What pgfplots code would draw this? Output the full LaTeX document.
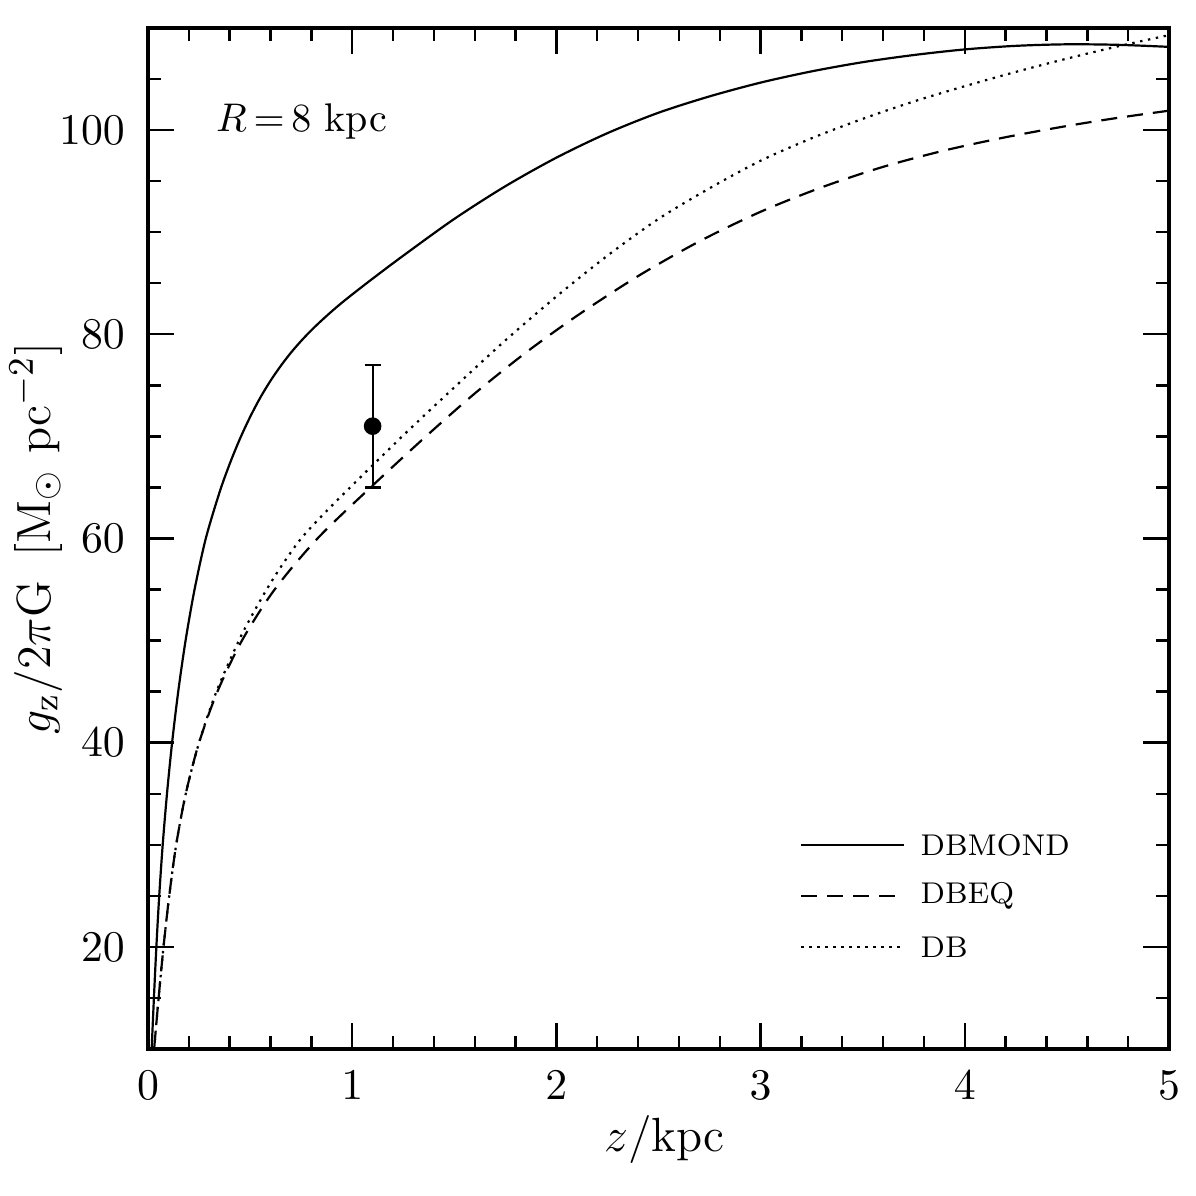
\documentclass[border=0pt]{standalone}
\usepackage{pgfplots}
\pgfplotsset{compat=1.18}

\begin{document}
\begin{tikzpicture}
% fixed page: 1 px of the reference = 0.25pt
\path[use as bounding box] (-37pt,-36.75pt) rectangle (262pt,262.25pt);
\begin{axis}[
    at={(0,0)}, anchor=south west,
    scale only axis,
    width=255.25pt, height=255.25pt,
    xmin=0, xmax=5, ymin=10, ymax=110,
    xtick={0,1,...,5},
    ytick={20,40,...,100},
    minor xtick={0,0.2,...,5},
    minor ytick={10,15,...,110},
    tick align=inside,
    major tick length=6.5pt,
    minor tick length=3.25pt,
    axis line style={line width=0.8pt},
    every tick/.style={line width=0.6pt, black},
    ticklabel style={font=\fontsize{11}{13}\selectfont},
    xticklabel style={yshift=-2pt},
    yticklabel style={xshift=-2.25pt},
    xlabel={$z/\mathrm{kpc}$},
    ylabel={$g_{\mathrm{z}}/2\pi\mathrm{G}\ \,[\mathrm{M}_\odot\ \mathrm{pc}^{-2}]$},
    label style={font=\fontsize{12.5}{15}\selectfont},
    xlabel style={at={(axis description cs:0.506,-0.0891)}, anchor=center},
    ylabel style={at={(axis description cs:-0.1098,0.5)}, anchor=center},
    clip=true,
]
% DBMOND
\addplot[black, line width=0.55pt, smooth] coordinates {
    (0.018,10) (0.029,15) (0.041,20) (0.055,25) (0.072,30) (0.093,35)
    (0.118,40) (0.148,45) (0.184,50) (0.228,55) (0.283,60) (0.35,64.5)
    (0.4,67.3) (0.45,69.75) (0.5,71.9) (0.55,73.8) (0.6,75.45) (0.65,76.9)
    (0.7,78.2) (0.75,79.35) (0.8,80.4) (0.85,81.35) (0.9,82.25) (0.95,83.1)
    (1.0,83.9) (1.1,85.45) (1.25,87.7) (1.5,91.3) (1.75,94.5) (2.0,97.3)
    (2.25,99.7) (2.5,101.7) (2.75,103.3) (3.0,104.65) (3.25,105.75)
    (3.5,106.65) (3.75,107.35) (4.0,107.9) (4.25,108.25) (4.5,108.4)
    (4.75,108.35) (5.0,108.15)
};
% DBEQ
\addplot[black, line width=0.55pt, smooth, dash pattern=on 4pt off 2.5pt] coordinates {
    (0.03,10) (0.052,15) (0.076,20) (0.104,25) (0.138,30) (0.185,35)
    (0.25,40) (0.34,45) (0.46,50) (0.62,55) (0.83,60) (1.09,65)
    (1.35,69.8) (1.6,74.2) (1.85,78.2) (2.1,81.8) (2.4,85.7) (2.7,89.1)
    (3.0,92.0) (3.3,94.4) (3.6,96.4) (3.9,98.0) (4.2,99.3) (4.5,100.4)
    (4.75,101.2) (5.0,101.9)
};
% DB
\addplot[black, line width=0.55pt, smooth, dash pattern=on 0.6pt off 1.4pt] coordinates {
    (0.03,10) (0.052,15) (0.076,20) (0.104,25) (0.138,30) (0.185,35)
    (0.25,40) (0.335,45) (0.445,50) (0.51,52.5) (0.575,54.8) (0.65,57.2)
    (0.75,60.0) (0.87,62.6) (1.0,65.2) (1.25,70.1) (1.5,74.8)
    (1.75,79.4) (2.0,83.7) (2.25,87.7) (2.5,91.3) (2.75,94.3)
    (3.0,97.0) (3.25,99.2) (3.5,101.1) (3.75,102.8) (4.0,104.3)
    (4.25,105.7) (4.5,107.0) (4.75,108.2) (5.0,109.3)
};
% measurement
\addplot[black, only marks, mark=*, mark size=2pt,
    error bars/.cd, y dir=both, y explicit,
    error bar style={line width=0.55pt},
    error mark options={rotate=90, mark size=2pt, line width=0.55pt}]
    coordinates {(1.1,71) +- (0,6)};

% legend
\addplot[black, line width=0.55pt] coordinates {(3.2,30) (3.7,30)};
\addplot[black, line width=0.55pt, dash pattern=on 4pt off 2.5pt] coordinates {(3.2,25) (3.7,25)};
\addplot[black, line width=0.55pt, dash pattern=on 0.6pt off 1.4pt] coordinates {(3.2,20) (3.7,20)};
\node[anchor=west, inner sep=0pt, font=\fontsize{7.5}{9}\selectfont] at (axis cs:3.78,30) {DBMOND};
\node[anchor=west, inner sep=0pt, font=\fontsize{7.5}{9}\selectfont] at (axis cs:3.78,25) {DBEQ};
\node[anchor=west, inner sep=0pt, font=\fontsize{7.5}{9}\selectfont] at (axis cs:3.78,20) {DB};

\node[anchor=base west, inner sep=0pt, font=\fontsize{10}{12}\selectfont]
    at (axis cs:0.33,99.9) {$R\,{=}\,8$ kpc};
\end{axis}
\end{tikzpicture}
\end{document}
